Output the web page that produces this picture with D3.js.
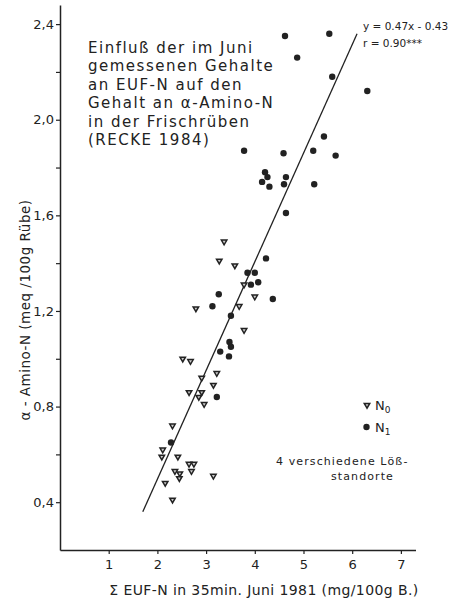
<!DOCTYPE html>
<html>
<head>
<meta charset="utf-8">
<script src="https://cdn.jsdelivr.net/npm/d3@7"></script>
<style>
  body { margin: 0; background: #fff; }
  svg { display: block; }
  text { fill: #222; font-family: "DejaVu Sans", sans-serif; }
</style>
</head>
<body>
<div id="chart"></div>
<script>
// EUF-N (x) vs alpha-amino-N (y)
let n0 = [
  [3.37,1.49],[3.27,1.41],[3.59,1.39],[3.78,1.31],[4.00,1.26],[2.79,1.21],[3.68,1.22],
  [3.78,1.12],[2.52,1.00],[2.68,0.99],[3.22,0.94],[2.91,0.92],[3.15,0.89],[2.65,0.86],
  [2.91,0.86],[2.85,0.84],[2.96,0.81],[2.31,0.72],[2.11,0.62],[2.09,0.59],[2.42,0.59],
  [2.65,0.56],[2.75,0.56],[2.70,0.53],[2.36,0.53],[2.46,0.52],[2.45,0.50],[3.15,0.51],
  [2.16,0.48],[2.31,0.41]
]
let n1 = [
  [4.62,2.35],[5.53,2.36],[4.87,2.26],[5.59,2.18],[6.31,2.12],[5.42,1.93],[3.78,1.87],
  [4.59,1.86],[5.20,1.87],[5.66,1.85],[4.21,1.78],[4.26,1.76],[4.15,1.74],[4.30,1.72],
  [4.64,1.76],[4.60,1.73],[5.22,1.73],[4.64,1.61],[4.23,1.42],[3.85,1.36],[4.00,1.36],
  [3.92,1.31],[4.07,1.32],[3.26,1.27],[4.37,1.25],[3.13,1.22],[3.51,1.18],[3.48,1.07],
  [3.51,1.05],[3.29,1.03],[3.47,1.01],[3.22,0.84],[2.28,0.65]
]
let fitLine = [[1.70,0.36],[6.10,2.36]]
let xTicks = [1,2,3,4,5,6,7]
let yTicks = [0.4,0.6,0.8,1.0,1.2,1.4,1.6,1.8,2.0,2.2,2.4]
let titleLines = ["Einfluß der im Juni", "gemessenen Gehalte", "an EUF-N auf den",
  "Gehalt an α-Amino-N", "in der Frischrüben", "(RECKE 1984)"]
let eqLines = ["y = 0.47x - 0.43", "r = 0.90***"]
let noteLines = ["4 verschiedene Löß-", "standorte"]

let width = 465, height = 601
let ink = "#222"

let svg = d3.select("#chart").append("svg")
  .attr("width", width).attr("height", height)

let x = d3.scaleLinear().domain([0, 7.3]).range([60, 415.5])
let y = d3.scaleLinear().domain([0.2, 2.48]).range([550, 5])

let comma = d3.formatLocale({decimal: ",", thousands: ".", grouping: [3], currency: ["", ""]}).format(".1f")

// axes
let gx = svg.append("g").attr("transform", `translate(0,${y(0.2)})`)
  .call(d3.axisBottom(x).tickValues(xTicks).tickSize(4).tickPadding(6).tickSizeOuter(0))
let gy = svg.append("g").attr("transform", `translate(${x(0)},0)`)
  .call(d3.axisLeft(y).tickValues(yTicks).tickSize(4).tickPadding(2).tickSizeOuter(0)
    .tickFormat(d => Math.round(d * 10) % 4 == 0 ? comma(d) : ""))
svg.selectAll(".domain").attr("stroke", ink).attr("stroke-width", 1.5)
svg.selectAll(".tick line").attr("stroke", ink).attr("stroke-width", 1.2)
svg.selectAll(".tick text").attr("fill", ink).style("font-size", "13px")
  .style("font-family", "'DejaVu Sans', sans-serif")

// axis titles
svg.append("text")
  .attr("x", 264).attr("y", 595)
  .attr("text-anchor", "middle").style("font-size", "14px").style("letter-spacing", "0.4px")
  .text("Σ EUF-N in 35min. Juni 1981 (mg/100g B.)")
svg.append("text")
  .attr("transform", `translate(30,${310}) rotate(-90)`)
  .attr("text-anchor", "middle").style("font-size", "13.5px").style("letter-spacing", "0.5px")
  .text("α - Amino-N (meq /100g Rübe)")

// regression line
svg.append("path")
  .datum(fitLine)
  .attr("d", d3.line().x(d => x(d[0])).y(d => y(d[1])))
  .attr("stroke", ink).attr("stroke-width", 1.3).attr("fill", "none")

// N0: small open down-triangles
let tri = d3.symbol().type(d3.symbolTriangle).size(13)
svg.append("g").selectAll("path")
  .data(n0).join("path")
  .attr("d", tri)
  .attr("transform", d => `translate(${x(d[0])},${y(d[1])}) rotate(180)`)
  .attr("fill", "#ccc").attr("stroke", ink).attr("stroke-width", 1.5)

// N1: filled dots
svg.append("g").selectAll("circle")
  .data(n1).join("circle")
  .attr("cx", d => x(d[0])).attr("cy", d => y(d[1]))
  .attr("r", 3.2).attr("fill", ink)

// title block
svg.append("g").selectAll("text")
  .data(titleLines).join("text")
  .attr("x", 88).attr("y", (d, i) => 53 + i * 18.4)
  .style("font-size", "15px").style("letter-spacing", "1.5px")
  .text(d => d)

// equation
svg.append("g").selectAll("text")
  .data(eqLines).join("text")
  .attr("x", 363).attr("y", (d, i) => 30 + i * 16.5)
  .style("font-size", "10.5px")
  .text(d => d)

// legend
let legend = svg.append("g")
legend.append("path").attr("d", tri)
  .attr("transform", `translate(367,405) rotate(180)`)
  .attr("fill", "#ccc").attr("stroke", ink).attr("stroke-width", 1.5)
legend.append("circle").attr("cx", 366.5).attr("cy", 427).attr("r", 3.2).attr("fill", ink)
let lt0 = legend.append("text").attr("x", 375).attr("y", 410).style("font-size", "13px")
lt0.append("tspan").text("N")
lt0.append("tspan").attr("dy", 3).style("font-size", "9px").text("0")
let lt1 = legend.append("text").attr("x", 375).attr("y", 432).style("font-size", "13px")
lt1.append("tspan").text("N")
lt1.append("tspan").attr("dy", 3).style("font-size", "9px").text("1")

legend.selectAll("text.note")
  .data(noteLines).join("text").attr("class", "note")
  .attr("x", (d, i) => i == 0 ? 276 : 331).attr("y", (d, i) => 465 + i * 14.5)
  .style("font-size", "11px").style("letter-spacing", "1.1px")
  .text(d => d)
</script>
</body>
</html>
